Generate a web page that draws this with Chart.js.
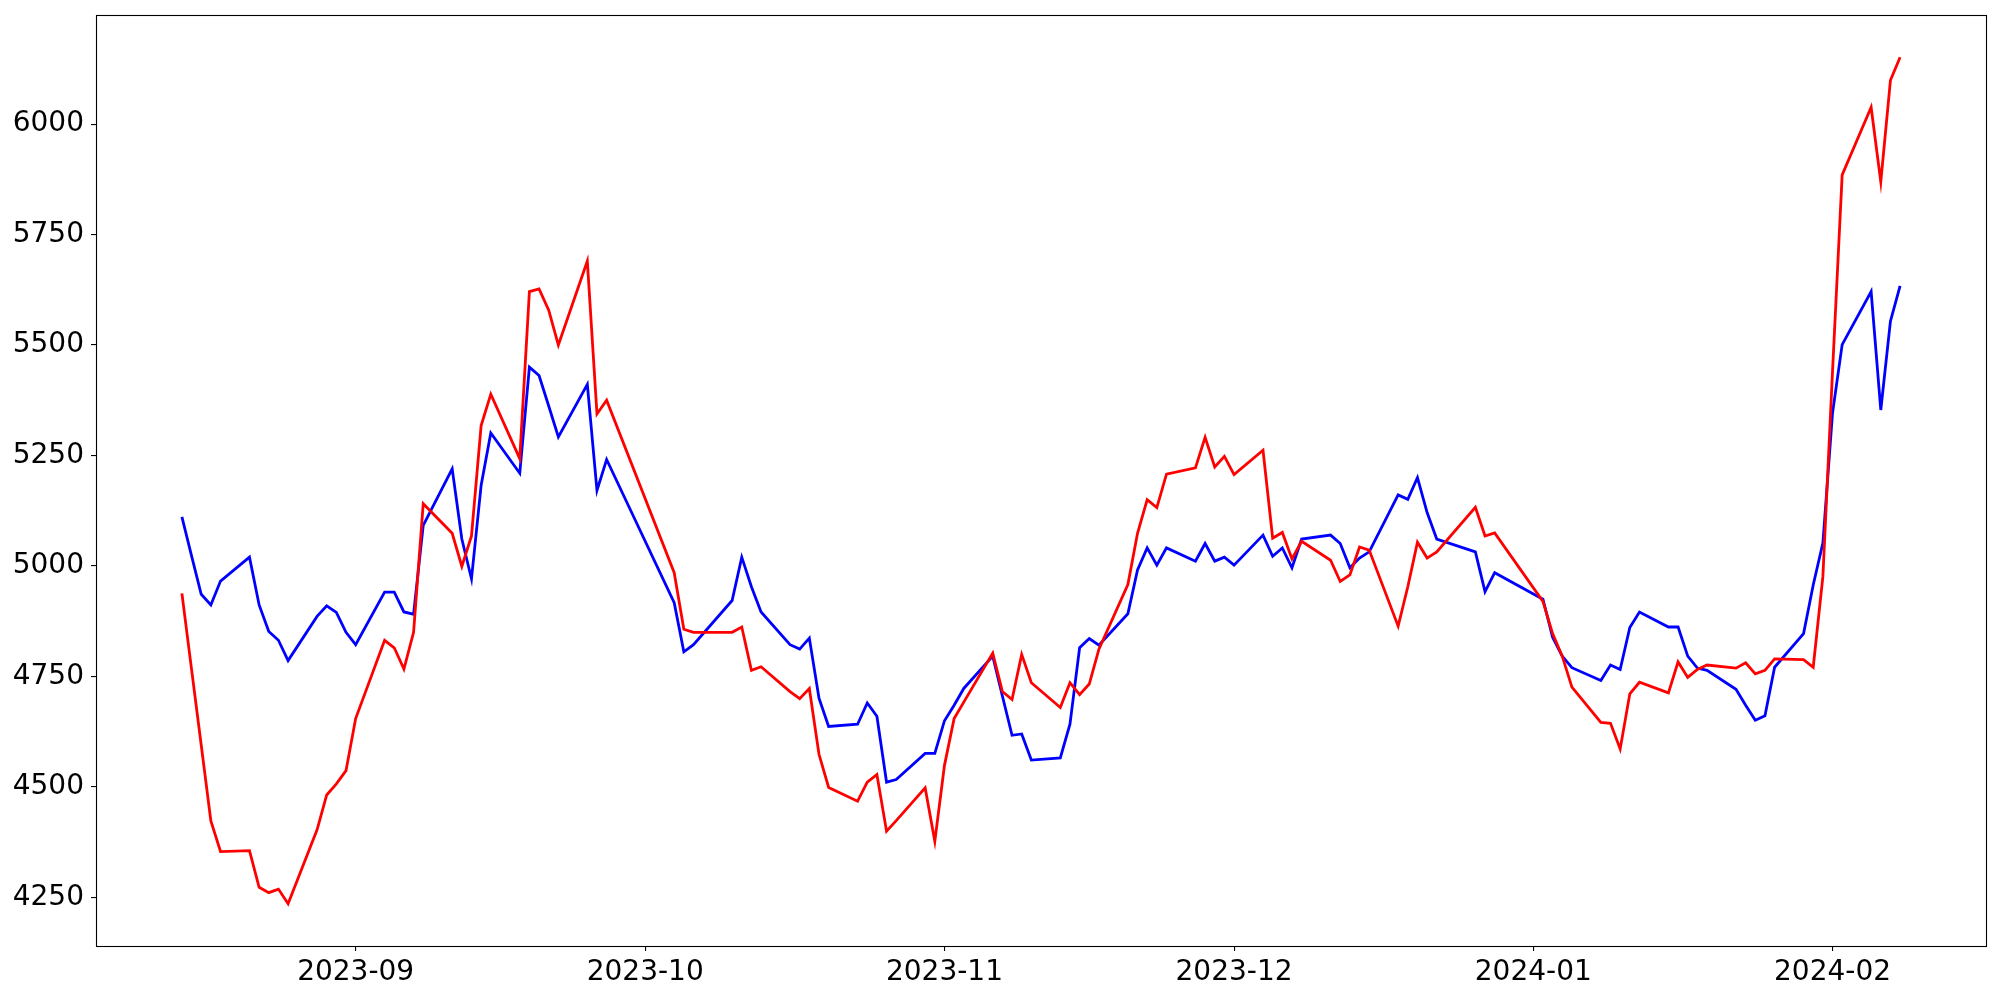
<!DOCTYPE html>
<html>
<head>
<meta charset="utf-8">
<script src="https://cdn.jsdelivr.net/npm/chart.js@4.4.1/dist/chart.umd.min.js"></script>
<style>
  body { margin: 0; background: #fff; }
  #wrap { width: 2000px; height: 1000px; }
</style>
</head>
<body>
<div id="wrap"><canvas id="chart" width="2000" height="1000"></canvas></div>
<script>
// data
var dates = [
  "2023-08-14", "2023-08-15", "2023-08-16", "2023-08-17", "2023-08-18",
  "2023-08-21", "2023-08-22", "2023-08-23", "2023-08-24", "2023-08-25",
  "2023-08-28", "2023-08-29", "2023-08-30", "2023-08-31", "2023-09-01",
  "2023-09-04", "2023-09-05", "2023-09-06", "2023-09-07", "2023-09-08",
  "2023-09-11", "2023-09-12", "2023-09-13", "2023-09-14", "2023-09-15",
  "2023-09-18", "2023-09-19", "2023-09-20", "2023-09-21", "2023-09-22",
  "2023-09-25", "2023-09-26", "2023-09-27",
  "2023-10-04", "2023-10-05", "2023-10-06",
  "2023-10-10", "2023-10-11", "2023-10-12", "2023-10-13",
  "2023-10-16", "2023-10-17", "2023-10-18", "2023-10-19", "2023-10-20",
  "2023-10-23", "2023-10-24", "2023-10-25", "2023-10-26", "2023-10-27",
  "2023-10-30", "2023-10-31", "2023-11-01", "2023-11-02", "2023-11-03",
  "2023-11-06", "2023-11-07", "2023-11-08", "2023-11-09", "2023-11-10",
  "2023-11-13", "2023-11-14", "2023-11-15", "2023-11-16", "2023-11-17",
  "2023-11-20", "2023-11-21", "2023-11-22", "2023-11-23", "2023-11-24",
  "2023-11-27", "2023-11-28", "2023-11-29", "2023-11-30", "2023-12-01",
  "2023-12-04", "2023-12-05", "2023-12-06", "2023-12-07", "2023-12-08",
  "2023-12-11", "2023-12-12", "2023-12-13", "2023-12-14", "2023-12-15",
  "2023-12-18", "2023-12-19", "2023-12-20", "2023-12-21", "2023-12-22",
  "2023-12-26", "2023-12-27", "2023-12-28",
  "2024-01-02", "2024-01-03", "2024-01-04", "2024-01-05",
  "2024-01-08", "2024-01-09", "2024-01-10", "2024-01-11", "2024-01-12",
  "2024-01-15", "2024-01-16", "2024-01-17", "2024-01-18", "2024-01-19",
  "2024-01-22", "2024-01-23", "2024-01-24", "2024-01-25", "2024-01-26",
  "2024-01-29", "2024-01-30", "2024-01-31", "2024-02-01", "2024-02-02",
  "2024-02-05", "2024-02-06", "2024-02-07", "2024-02-08"
];

var redValues = [
  4938, 4766, 4595, 4423, 4354,
  4356, 4273, 4261, 4269, 4236,
  4403, 4482, 4507, 4537, 4655,
  4832, 4815, 4767, 4850, 5141,
  5074, 4999, 5068, 5318, 5389,
  5243, 5621, 5627, 5579, 5500,
  5690, 5344, 5375,
  4985, 4857, 4850,
  4850, 4862, 4764, 4772,
  4716, 4700, 4723, 4574, 4499,
  4468, 4511, 4528, 4400, 4424,
  4498, 4377, 4549, 4655, 4692,
  4803, 4716, 4698, 4800, 4736,
  4680, 4736, 4709, 4733, 4812,
  4958, 5074, 5150, 5132, 5208,
  5222, 5291, 5224, 5248, 5207,
  5262, 5063, 5076, 5016, 5056,
  5013, 4965, 4980, 5043, 5036,
  4864, 4953, 5054, 5018, 5032,
  5133, 5068, 5075,
  4920, 4847, 4796, 4726,
  4646, 4644, 4586, 4711, 4737,
  4713, 4783, 4748, 4766, 4776,
  4769, 4781, 4756, 4764, 4790,
  4788, 4771, 4976, 5440, 5885,
  6038, 5869, 6099, 6151
];

var blueValues = [
  5111, 5023, 4936, 4912, 4966,
  5020, 4912, 4852, 4832, 4786,
  4886, 4910, 4895, 4850, 4822,
  4941, 4941, 4896, 4891, 5092,
  5220, 5061, 4971, 5183, 5301,
  5210, 5450, 5431, 5362, 5292,
  5411, 5171, 5241,
  4917, 4806, 4822,
  4922, 5020, 4953, 4896,
  4822, 4812, 4837, 4701, 4637,
  4642, 4690, 4660, 4511, 4517,
  4576, 4576, 4650, 4685, 4723,
  4796, 4706, 4617, 4620, 4561,
  4566, 4642, 4815, 4836, 4821,
  4892, 4991, 5041, 5002, 5041,
  5011, 5051, 5011, 5020, 5002,
  5070, 5022, 5041, 4996, 5061,
  5070, 5051, 4996, 5018, 5032,
  5161, 5151, 5200, 5121, 5061,
  5032, 4942, 4985,
  4925, 4839, 4796, 4770,
  4741, 4776, 4766, 4861, 4896,
  4862, 4862, 4796, 4769, 4764,
  4721, 4685, 4651, 4661, 4771,
  4847, 4957, 5052, 5346, 5501,
  5621, 5353, 5554, 5634
];

var xTickLabels = ["2023-09", "2023-10", "2023-11", "2023-12", "2024-01", "2024-02"];
var yTickValues = [4250, 4500, 4750, 5000, 5250, 5500, 5750, 6000];

// build points
var xs = dates.map(function (d) { return Date.parse(d); });
var redPoints = xs.map(function (x, i) { return { x: x, y: redValues[i] }; });
var bluePoints = xs.map(function (x, i) { return { x: x, y: blueValues[i] }; });
var xTickValues = xTickLabels.map(function (m) { return Date.parse(m + "-01"); });

// matplotlib style 5% margins
var xMin = Math.min.apply(null, xs), xMax = Math.max.apply(null, xs);
var xPad = (xMax - xMin) * 0.05;
var allY = redValues.concat(blueValues);
var yMin = Math.min.apply(null, allY), yMax = Math.max.apply(null, allY);
var yPad = (yMax - yMin) * 0.05;

var frame = {
  id: "frame",
  afterDraw: function (chart) {
    var a = chart.chartArea;
    var c = chart.ctx;
    c.save();
    c.strokeStyle = "#000";
    c.lineWidth = 1.1;
    c.strokeRect(Math.round(a.left) + 0.5, Math.round(a.top) + 0.5,
      Math.round(a.right - a.left), Math.round(a.bottom - a.top));
    c.restore();
  }
};

var font = { family: "'DejaVu Sans', sans-serif", size: 28 };

new Chart(document.getElementById("chart"), {
  type: "line",
  data: {
    datasets: [
      { data: redPoints, borderColor: "#ff0000", borderWidth: 2.8, pointRadius: 0, fill: false, tension: 0 },
      { data: bluePoints, borderColor: "#0000ff", borderWidth: 2.8, pointRadius: 0, fill: false, tension: 0 }
    ]
  },
  options: {
    responsive: false,
    animation: false,
    devicePixelRatio: 1,
    layout: { padding: { left: 0, top: 15, right: 14, bottom: 0 } },
    plugins: { legend: { display: false }, tooltip: { enabled: false } },
    scales: {
      x: {
        type: "linear",
        min: xMin - xPad,
        max: xMax + xPad,
        afterBuildTicks: function (scale) {
          scale.ticks = xTickValues.map(function (v) { return { value: v }; });
        },
        afterFit: function (scale) {
          scale.height = 54;
          scale.paddingLeft = 0;
          scale.paddingRight = 0;
        },
        grid: { display: true, drawOnChartArea: false, drawTicks: true, tickLength: 5, color: "#000", lineWidth: 1.1 },
        border: { display: false },
        ticks: {
          autoSkip: false,
          maxRotation: 0,
          padding: 5,
          color: "#000",
          font: font,
          callback: function (value, index) { return xTickLabels[index]; }
        }
      },
      y: {
        type: "linear",
        min: yMin - yPad,
        max: yMax + yPad,
        afterBuildTicks: function (scale) {
          scale.ticks = yTickValues.map(function (v) { return { value: v }; });
        },
        afterFit: function (scale) {
          scale.width = 96;
          scale.paddingTop = 0;
          scale.paddingBottom = 0;
        },
        grid: { display: true, drawOnChartArea: false, drawTicks: true, tickLength: 5, color: "#000", lineWidth: 1.1 },
        border: { display: false },
        ticks: {
          padding: 7,
          color: "#000",
          font: font,
          callback: function (value) { return String(value); }
        }
      }
    }
  },
  plugins: [frame]
});
</script>
</body>
</html>
